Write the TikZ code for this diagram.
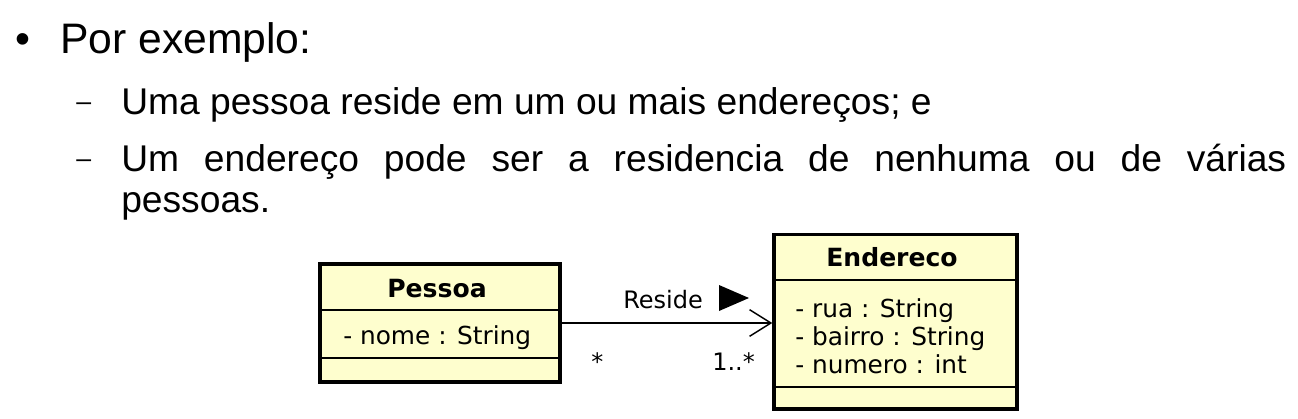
\documentclass[tikz,border=0pt]{standalone}
\usepackage{fontspec}
\setmainfont{Liberation Sans}
\newfontfamily\umlfont{DejaVu Sans}
\usetikzlibrary{positioning, arrows.meta, calc}
\definecolor{umlfill}{HTML}{FEFECE}
\tikzset{
  classbox/.style={
    draw,
    rectangle,
    line width=2.6pt,
    fill=umlfill,
    inner sep=0pt
  },
  sepline/.style={
    line width=1.1pt
  },
  topic/.style={
    anchor=base west,
    inner sep=0pt,
    font=\fontsize{32}{38}\selectfont
  },
  subtopic/.style={
    anchor=base west,
    inner sep=0pt,
    font=\fontsize{27.9}{33}\selectfont
  },
  umltext/.style={
    anchor=base west,
    inner sep=0pt,
    font=\umlfont\fontsize{18.6}{22}\selectfont
  },
  umltitle/.style={
    anchor=base,
    inner sep=0pt,
    font=\umlfont\bfseries\fontsize{18.8}{22}\selectfont
  },
  assoc/.style={
    line width=1.1pt,
    -{Straight Barb[length=16pt, width=20pt, line width=1.1pt]}
  }
}

\begin{document}
\begin{tikzpicture}[x=0.75pt, y=-0.75pt]
    \useasboundingbox (0,0) rectangle (1298,418);

    % texto
    \node[topic] (bullet) at (15,53) {•};
    \node[topic] (intro) at (60,53) {Por exemplo:};
    \node[subtopic, font=\fontsize{20}{24}\selectfont] (dash1) at (76,110) {–};
    \node[subtopic] (item1) at (121,114) {Uma pessoa reside em um ou mais endereços; e};
    \node[subtopic, font=\fontsize{20}{24}\selectfont] (dash2) at (76,167) {–};
    \node[subtopic] (item2) at (121,171) {\makebox[873.75pt][s]{Um endereço pode ser a residencia de nenhuma ou de várias}};
    \node[subtopic] (item2b) at (121,212) {pessoas.};

    % classes
    \node[classbox, minimum width=180pt, minimum height=88.5pt] (pessoa) at (440,323) {};
    \node[classbox, minimum width=182.25pt, minimum height=130.9pt] (endereco) at (895.5,321.75) {};

    \draw[sepline] (320,310) -- (560,310);
    \draw[sepline] (320,358) -- (560,358);
    \draw[sepline] (774,280) -- (1017,280);
    \draw[sepline] (774,387) -- (1017,387);

    \node[umltitle] (pessoa-nome) at (437,297) {Pessoa};
    \node[umltext] (pessoa-attr) at (343,344) {- nome : String};

    \node[umltitle] (endereco-nome) at (892,266) {Endereco};
    \node[umltext] (rua) at (795,317) {- rua : String};
    \node[umltext] (bairro) at (795,345) {- bairro : String};
    \node[umltext] (numero) at (795,373) {- numero : int};

    % associacao
    \draw[assoc] (pessoa.east) -- (pessoa.east -| endereco.west);
    \node[umltext, font=\umlfont\fontsize{18}{22}\selectfont] (reside) at (623,308) {Reside};
    \fill (719,285) -- (749,298) -- (719,311) -- cycle;
    \node[umltext, font=\umlfont\fontsize{18}{22}\selectfont] (mult-a) at (591,370) {*};
    \node[umltext, font=\umlfont\fontsize{18}{22}\selectfont] (mult-b) at (712,370) {1..*};
\end{tikzpicture}
\end{document}
